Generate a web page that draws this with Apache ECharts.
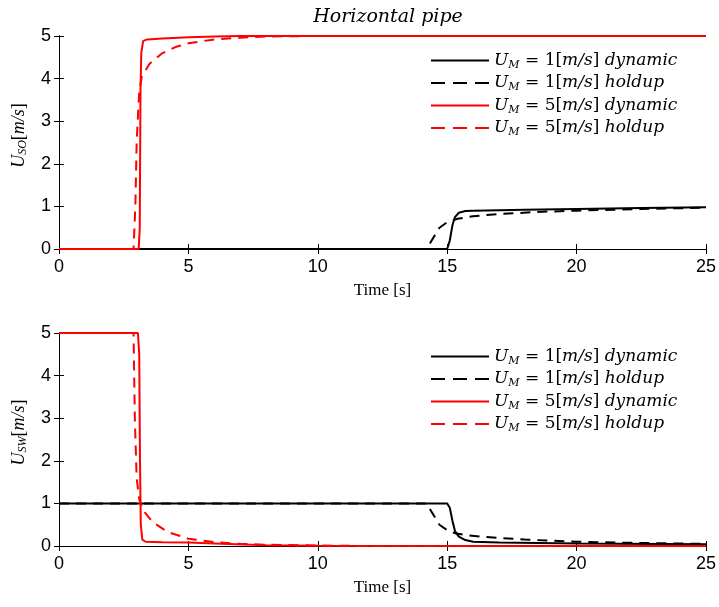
<!DOCTYPE html>
<html><head><meta charset="utf-8">
<script src="https://cdn.jsdelivr.net/npm/echarts@6/dist/echarts.min.js"></script>
<style>html,body{margin:0;padding:0;background:#fff}#c{width:719px;height:607px}</style>
</head><body><div id="c"></div>
<script>
// ---- data ----
const xTicks = [0, 5, 10, 15, 20, 25];
const yTicks = [0, 1, 2, 3, 4, 5];
const seriesNames = ['UM1dyn', 'UM1hold', 'UM5dyn', 'UM5hold'];
const legendText = {
  UM1dyn: ['1', 'dynamic'], UM1hold: ['1', 'holdup'],
  UM5dyn: ['5', 'dynamic'], UM5hold: ['5', 'holdup']
};
// Top panel: U_SO
const usoM1Dynamic = [[0,0],[15.0,0],[15.1,0.2],[15.2,0.55],[15.3,0.75],[15.45,0.85],[15.7,0.89],[16,0.9],[18,0.92],[20,0.94],[22.5,0.96],[25,0.98]];
const usoM1Holdup = [[0,0],[14.2,0],[14.4,0.2],[14.7,0.5],[15.0,0.63],[15.4,0.71],[16,0.77],[17,0.82],[18.5,0.87],[20,0.9],[22.5,0.94],[25,0.97]];
const usoM5Dynamic = [[0,0],[3.08,0],[3.12,0.5],[3.15,3.8],[3.18,4.6],[3.25,4.88],[3.4,4.92],[4,4.94],[5,4.97],[6,4.99],[7,5],[25,5]];
const usoM5Holdup = [[0,0],[2.88,0],[2.95,1],[3.0,2.5],[3.1,3.7],[3.2,4.05],[3.5,4.35],[4,4.6],[4.5,4.74],[5,4.83],[6,4.92],[7,4.96],[8,4.99],[10,5],[25,5]];
// Bottom panel: U_SW
const uswM1Dynamic = [[0,1],[15.0,1],[15.1,0.9],[15.2,0.6],[15.3,0.35],[15.45,0.22],[15.7,0.14],[16,0.1],[17,0.08],[20,0.06],[25,0.04]];
const uswM1Holdup = [[0,1],[14.2,1],[14.4,0.8],[14.7,0.5],[15.0,0.37],[15.3,0.3],[15.8,0.25],[16.5,0.21],[18,0.15],[20,0.1],[22.5,0.07],[25,0.05]];
const uswM5Dynamic = [[0,5],[3.05,5],[3.1,4.5],[3.13,2],[3.16,0.5],[3.22,0.15],[3.35,0.1],[4,0.09],[5,0.08],[6,0.06],[8,0.02],[10,0.005],[25,0]];
const uswM5Holdup = [[0,5],[2.88,5],[2.93,3],[3.0,1.6],[3.1,1.1],[3.25,0.84],[3.6,0.57],[4.2,0.33],[5,0.17],[6,0.09],[7,0.05],[8,0.03],[10,0.01],[12,0],[25,0]];

// ---- styles ----
const SERIF = 'DejaVu Serif';
const SERIF2 = 'Liberation Serif';
const SANS = 'Liberation Sans';
const styles = {
  UM1dyn: {color: '#000', type: 'solid', legendType: 'solid'},
  UM1hold: {color: '#000', type: [10, 7], legendType: [14, 8]},
  UM5dyn: {color: '#ff0000', type: 'solid', legendType: 'solid'},
  UM5hold: {color: '#ff0000', type: [10, 7], legendType: [14, 8]}
};
const richTxt = {
  i: {fontFamily: SERIF, fontStyle: 'italic', fontSize: 17, color: '#000', lineHeight: 20},
  n: {fontFamily: SERIF, fontSize: 17, color: '#000', lineHeight: 20},
  sub: {fontFamily: SERIF, fontStyle: 'italic', fontSize: 11, color: '#000', lineHeight: 20, verticalAlign: 'bottom', padding: [6, 0, 0, 0]}
};
const richY = {
  i: {fontFamily: SERIF2, fontStyle: 'italic', fontSize: 18, color: '#000', lineHeight: 20},
  n: {fontFamily: SERIF2, fontSize: 18, color: '#000', lineHeight: 20},
  sub: {fontFamily: SERIF2, fontStyle: 'italic', fontSize: 12, color: '#000', lineHeight: 20, verticalAlign: 'bottom', padding: [6, 0, 0, 0]}
};
const grids = [
  {left: 59, top: 36, width: 648, height: 213},
  {left: 59, top: 333, width: 648, height: 213}
];
function xAxes(gi) {
  const base = {type: 'value', gridIndex: gi, min: 0, max: 25, interval: 5,
    splitLine: {show: false},
    axisLine: {show: true, lineStyle: {color: '#000', width: 1}},
    axisTick: {show: true, inside: true, length: 5, lineStyle: {color: '#000'}}};
  return [
    Object.assign({}, base, {position: 'bottom',
      axisLabel: {fontFamily: SANS, fontSize: 18, color: '#000', margin: 9},
      name: 'Time [s]', nameLocation: 'middle', nameGap: 33,
      nameTextStyle: {fontFamily: SERIF2, fontSize: 17, color: '#000'}}),
    Object.assign({}, base, {position: 'top', axisLabel: {show: false}})
  ];
}
function yAxes(gi, sub) {
  const base = {type: 'value', gridIndex: gi, min: 0, max: 5, interval: 1,
    splitLine: {show: false},
    axisLine: {show: true, lineStyle: {color: '#000', width: 1}},
    axisTick: {show: true, inside: true, length: 5, lineStyle: {color: '#000'}}};
  return [
    Object.assign({}, base, {position: 'left',
      axisLabel: {fontFamily: SANS, fontSize: 18, color: '#000', margin: 8},
      name: '{i|U}{sub|' + sub + '}{n|[}{i|m/s}{n|]}', nameLocation: 'middle', nameGap: 30,
      nameTextStyle: {rich: richY, padding: [0, 0, 0, 14]}}),
    Object.assign({}, base, {position: 'right', axisLabel: {show: false}})
  ];
}
const panels = [
  [usoM1Dynamic, usoM1Holdup, usoM5Dynamic, usoM5Holdup],
  [uswM1Dynamic, uswM1Holdup, uswM5Dynamic, uswM5Holdup]
];
const series = [];
panels.forEach((arrs, gi) => {
  arrs.forEach((d, k) => {
    const nm = seriesNames[k];
    series.push({type: 'line', name: nm, xAxisIndex: gi * 2, yAxisIndex: gi * 2,
      data: d, symbol: 'none', smooth: false, animation: false,
      lineStyle: {color: styles[nm].color, type: styles[nm].type, width: 2},
      itemStyle: {color: styles[nm].color}, z: 2 + k});
  });
});
function legend(top) {
  return {orient: 'vertical', left: 430, top: top, itemWidth: 58, itemHeight: 12, itemGap: 4,
    padding: 0,
    data: seriesNames.map(n => ({name: n, lineStyle: {type: styles[n].legendType, width: 2}})),
    selectedMode: false,
    itemStyle: {opacity: 0},
    lineStyle: {width: 2},
    formatter: n => '{i|U}{sub|M}{n| = ' + legendText[n][0] + '[}{i|m/s}{n|] }{i|' + legendText[n][1] + '}',
    textStyle: {rich: richTxt}};
}
const chart = echarts.init(document.getElementById('c'), null, {renderer: 'canvas'});
chart.setOption({
  backgroundColor: '#fff',
  animation: false,
  title: {text: 'Horizontal pipe', left: 383, textAlign: 'center', top: 3,
    textStyle: {fontFamily: SERIF, fontStyle: 'italic', fontWeight: 'normal', fontSize: 19, color: '#000'}},
  grid: grids,
  xAxis: [...xAxes(0), ...xAxes(1)],
  yAxis: [...yAxes(0, 'SO'), ...yAxes(1, 'SW')],
  legend: [legend(52), legend(348)],
  series: series
});
</script></body></html>
